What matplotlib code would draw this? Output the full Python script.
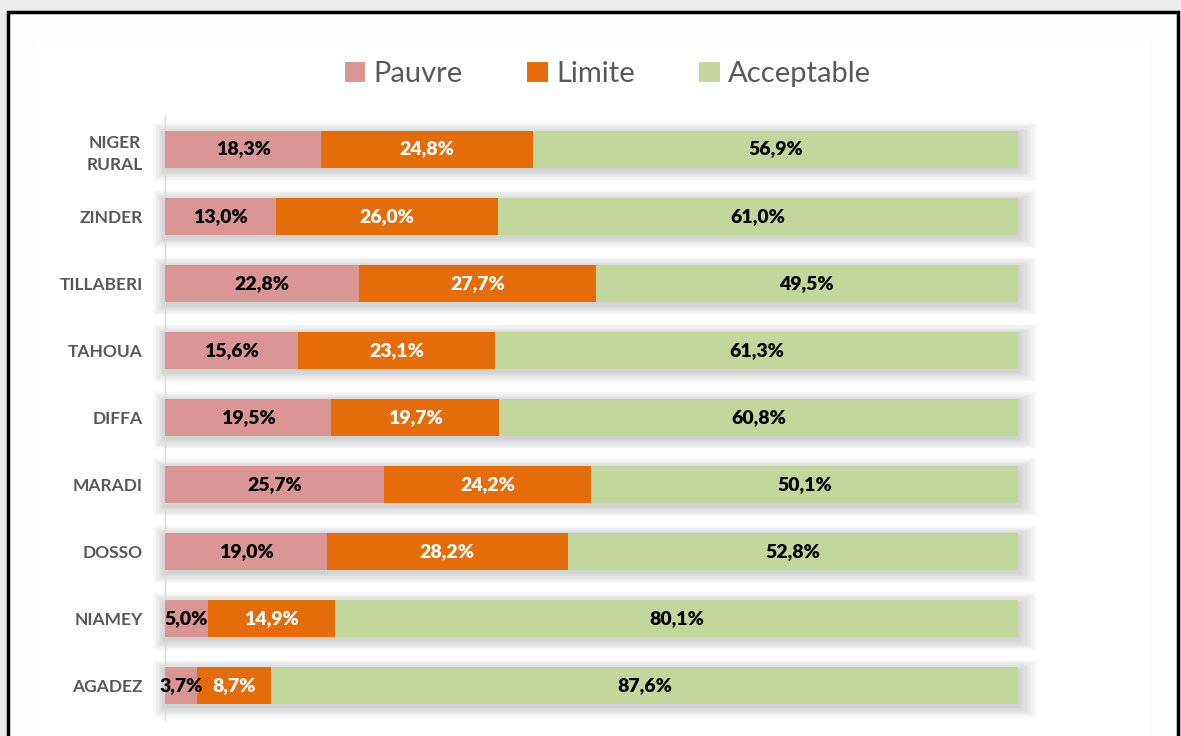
import matplotlib
matplotlib.use("Agg")
import matplotlib.pyplot as plt
from matplotlib.patches import Rectangle
import numpy as np

# Data (top to bottom as shown)
regions = ["NIGER\nRURAL", "ZINDER", "TILLABERI", "TAHOUA", "DIFFA",
           "MARADI", "DOSSO", "NIAMEY", "AGADEZ"]
pauvre = [18.3, 13.0, 22.8, 15.6, 19.5, 25.7, 19.0, 5.0, 3.7]
limite = [24.8, 26.0, 27.7, 23.1, 19.7, 24.2, 28.2, 14.9, 8.7]
acceptable = [56.9, 61.0, 49.5, 61.3, 60.8, 50.1, 52.8, 80.1, 87.6]

series = ["Pauvre", "Limite", "Acceptable"]
colors = ["#D99694", "#E46C0A", "#C3D69B"]
label_colors = ["black", "white", "black"]

plt.rcParams["font.family"] = ["Lato", "DejaVu Sans"]

fig = plt.figure(figsize=(11.81, 7.36), dpi=100)
fig.patch.set_facecolor("#ebebeb")

# white chart area with black frame
fig.patches.append(Rectangle((8 / 1181, -0.05), 1170 / 1181, 1.05 - 12 / 736,
                             transform=fig.transFigure, facecolor="white",
                             edgecolor="black", linewidth=2.5, zorder=-2))
# soft inner shadow of the frame
for k in range(14):
    fig.patches.append(Rectangle(((10 + 2 * k) / 1181, -0.05),
                                 (1166 - 4 * k) / 1181, 1.05 - (14 + 2 * k) / 736,
                                 transform=fig.transFigure, facecolor="none",
                                 edgecolor="#000000", alpha=0.004, linewidth=3,
                                 zorder=-1))

ax = fig.add_axes([165 / 1181, 1 - 719.5 / 736, 853 / 1181, 604 / 736])
ax.set_facecolor("none")
ax.set_zorder(2)

y = np.arange(len(regions))[::-1]
h = 0.55
data = [pauvre, limite, acceptable]

# bar shadows
totals = np.array(pauvre) + np.array(limite) + np.array(acceptable)
for k in range(1, 10):
    ax.barh(y - 0.04, totals + 0.4 * k, height=h + 0.035 * k,
            left=-0.15 * k, color="black", alpha=0.02, zorder=1, linewidth=0,
            clip_on=False)

left = np.zeros(len(regions))
for name, vals, col, lc in zip(series, data, colors, label_colors):
    vals = np.array(vals)
    ax.barh(y, vals, height=h, left=left, color=col, label=name, zorder=3,
            linewidth=0)
    for yi, l, v in zip(y, left, vals):
        ax.text(l + v / 2, yi, f"{v:.1f}%".replace(".", ","), ha="center",
                va="center", color=lc, fontsize=14, fontweight="heavy", zorder=4)
    left = left + vals

ax.set_xlim(0, 100)
ax.set_ylim(-0.5, len(regions) - 0.5)
ax.set_yticks(y)
ax.set_yticklabels(regions, fontsize=12.5, fontweight="bold", color="#595959",
                   multialignment="center", linespacing=1.5)
ax.tick_params(axis="y", length=0, pad=16)
ax.set_xticks([])
for s in ["top", "right", "bottom"]:
    ax.spines[s].set_visible(False)
ax.spines["left"].set_color("#d9d9d9")
ax.spines["left"].set_linewidth(1)

fig.legend(loc="center", bbox_to_anchor=(608 / 1181, 1 - 74 / 736), ncol=3,
           frameon=False, fontsize=21, handlelength=0.7, handleheight=0.7,
           handletextpad=0.3, columnspacing=2.2, labelcolor="#595959")

fig.savefig("out.png", dpi=100, facecolor=fig.get_facecolor())
